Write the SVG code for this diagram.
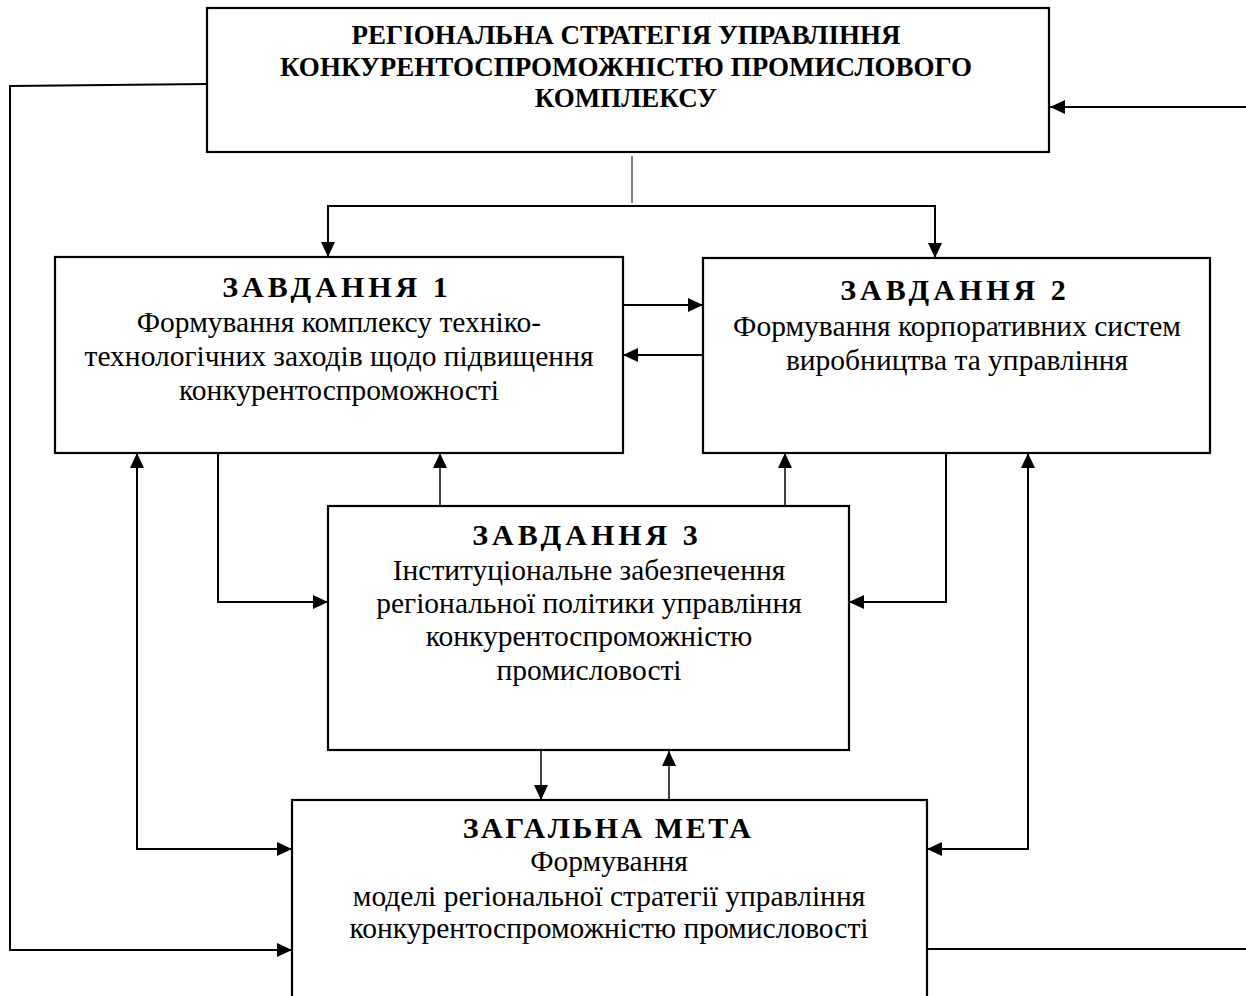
<svg xmlns="http://www.w3.org/2000/svg" width="1246" height="996" viewBox="0 0 1246 996">
<defs>
<marker id="ah" markerUnits="userSpaceOnUse" markerWidth="16" markerHeight="14" refX="15" refY="7" orient="auto-start-reverse" viewBox="0 0 16 14">
<path d="M0,0 L15,7 L0,14 z" fill="#000"/>
</marker>
<style>
.box{fill:#fff;stroke:#000;stroke-width:2.2}
.c{fill:none;stroke:#000;stroke-width:2}
.t{stroke-width:1.5}
.thin{stroke-width:1}
.hd{font-family:"Liberation Serif","Times New Roman",serif;font-weight:bold;font-size:27px;text-anchor:middle;fill:#000}
.ti{font-family:"Liberation Serif","Times New Roman",serif;font-weight:bold;font-size:30px;letter-spacing:4px;text-anchor:middle;fill:#000}
.tg{font-family:"Liberation Serif","Times New Roman",serif;font-weight:bold;font-size:30px;letter-spacing:2.5px;text-anchor:middle;fill:#000}
.tx{font-family:"Liberation Serif","Times New Roman",serif;font-size:29.5px;text-anchor:middle;fill:#000}
</style>
</defs>
<rect width="1246" height="996" fill="#fff"/>
<g id="connectors">
<path class="c" d="M207,84 L10,86 V950 H292" marker-end="url(#ah)"/>
<path class="c" d="M927,949 H1260 V107 H1050" marker-end="url(#ah)"/>
<path class="c thin" d="M632,156 V203"/>
<path class="c" d="M632,206 H328 V257" marker-end="url(#ah)"/>
<path class="c" d="M632,206 H935 V258" marker-end="url(#ah)"/>
<path class="c" d="M623,305 H703" marker-end="url(#ah)"/>
<path class="c" d="M703,355 H623" marker-end="url(#ah)"/>
<path class="c t" d="M440,506 V453" marker-end="url(#ah)"/>
<path class="c t" d="M785,506 V453" marker-end="url(#ah)"/>
<path class="c" d="M218,453 V602 H328" marker-end="url(#ah)"/>
<path class="c" d="M946,453 V602 H849" marker-end="url(#ah)"/>
<path class="c" d="M137,453 V849 H292" marker-start="url(#ah)" marker-end="url(#ah)"/>
<path class="c" d="M1028,453 V849 H927" marker-start="url(#ah)" marker-end="url(#ah)"/>
<path class="c t" d="M541,751 V800" marker-end="url(#ah)"/>
<path class="c t" d="M669,800 V751" marker-end="url(#ah)"/>
</g>
<g id="strategy">
<rect class="box" x="207" y="8" width="842" height="144"/>
<text class="hd" x="626" y="44">РЕГІОНАЛЬНА СТРАТЕГІЯ УПРАВЛІННЯ</text>
<text class="hd" x="626" y="76">КОНКУРЕНТОСПРОМОЖНІСТЮ ПРОМИСЛОВОГО</text>
<text class="hd" x="626" y="107">КОМПЛЕКСУ</text>
</g>
<g id="task1">
<rect class="box" x="55" y="257" width="568" height="196"/>
<text class="ti" x="337" y="297">ЗАВДАННЯ 1</text>
<text class="tx" x="339" y="332">Формування комплексу техніко-</text>
<text class="tx" x="339" y="366">технологічних заходів щодо підвищення</text>
<text class="tx" x="339" y="400">конкурентоспроможності</text>
</g>
<g id="task2">
<rect class="box" x="703" y="258" width="507" height="195"/>
<text class="ti" x="955" y="300">ЗАВДАННЯ 2</text>
<text class="tx" x="957" y="336">Формування корпоративних систем</text>
<text class="tx" x="957" y="370">виробництва та управління</text>
</g>
<g id="task3">
<rect class="box" x="328" y="506" width="521" height="244"/>
<text class="ti" x="587" y="545">ЗАВДАННЯ 3</text>
<text class="tx" x="589" y="580">Інституціональне забезпечення</text>
<text class="tx" x="589" y="613">регіональної політики управління</text>
<text class="tx" x="589" y="646">конкурентоспроможністю</text>
<text class="tx" x="589" y="680">промисловості</text>
</g>
<g id="goal">
<rect class="box" x="292" y="800" width="635" height="220"/>
<text class="tg" x="608" y="838">ЗАГАЛЬНА МЕТА</text>
<text class="tx" x="609" y="871">Формування</text>
<text class="tx" x="609" y="906">моделі регіональної стратегії управління</text>
<text class="tx" x="609" y="938">конкурентоспроможністю промисловості</text>
</g>
</svg>
